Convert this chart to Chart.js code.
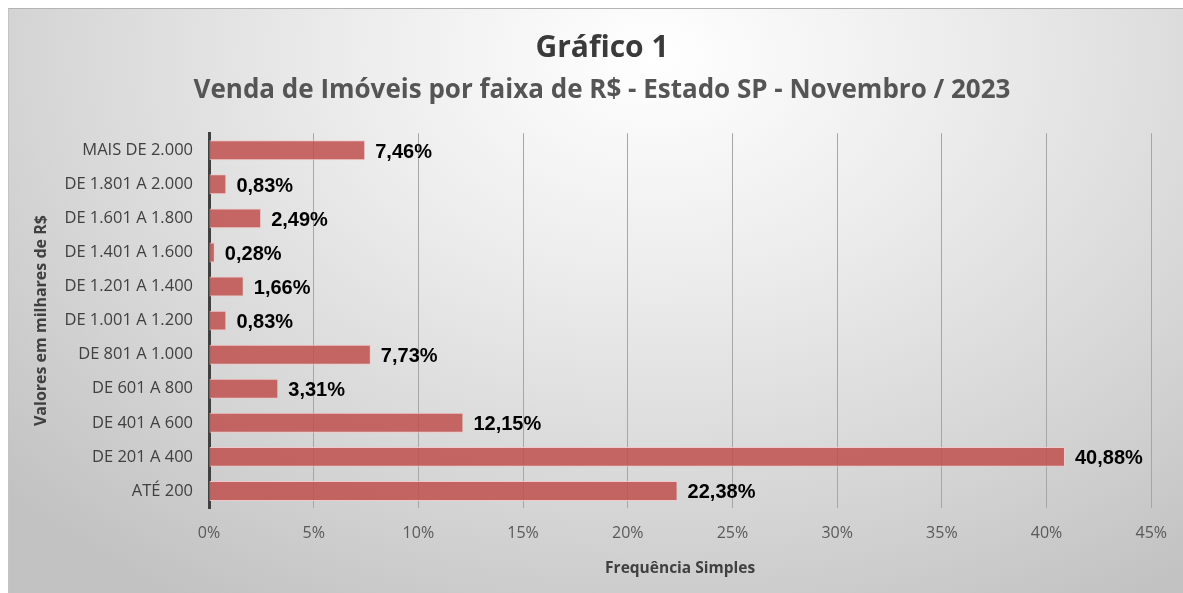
<!DOCTYPE html>
<html lang="pt-BR">
<head>
  <meta charset="UTF-8">
  <title>Gráfico 1</title>
  <style>
    body { margin: 0; background: #ffffff; }
    #chartContainer {
      position: absolute; left: 8px; top: 8px; width: 1175px; height: 585px;
      border-top: 1px solid #b4b4b4; border-left: 1px solid #c4c4c4;
      box-sizing: border-box;
      background: radial-gradient(ellipse 75% 110% at 55% 8%, #ffffff 0%, #ececec 35%, #d6d6d6 70%, #c2c2c2 100%);
    }
  </style>
</head>
<body>
  <div id="chartContainer">
    <canvas id="vendasChart"></canvas>
  </div>

  <script src="https://cdn.jsdelivr.net/npm/chart.js"></script>
  <script>
    // faixas de valor (de cima para baixo) e frequência simples em %
    const faixas = ['MAIS DE 2.000', 'DE 1.801 A 2.000', 'DE 1.601 A 1.800', 'DE 1.401 A 1.600',
      'DE 1.201 A 1.400', 'DE 1.001 A 1.200', 'DE 801 A 1.000', 'DE 601 A 800',
      'DE 401 A 600', 'DE 201 A 400', 'ATÉ 200'];
    const frequencias = [7.46, 0.83, 2.49, 0.28, 1.66, 0.83, 7.73, 3.31, 12.15, 40.88, 22.38];
    const xTicks = [0, 5, 10, 15, 20, 25, 30, 35, 40, 45];

    const fmt = v => v.toFixed(2).replace('.', ',') + '%';
    const FONT = '"Open Sans", "DejaVu Sans", sans-serif';

    // rótulos de dados na ponta das barras
    const barLabels = {
      id: 'barLabels',
      afterDatasetsDraw(chart) {
        const ctx = chart.ctx;
        const meta = chart.getDatasetMeta(0);
        ctx.save();
        ctx.font = 'bold 20px "Liberation Sans", Arial, sans-serif';
        ctx.fillStyle = '#000000';
        ctx.textAlign = 'left';
        ctx.textBaseline = 'middle';
        meta.data.forEach((bar, i) => {
          ctx.fillText(fmt(frequencias[i]), bar.x + 10, bar.y + 2);
        });
        ctx.restore();
      }
    };

    const ctx = document.getElementById('vendasChart').getContext('2d');
    new Chart(ctx, {
      type: 'bar',
      data: {
        labels: faixas,
        datasets: [{
          label: 'Frequência Simples',
          data: frequencias,
          backgroundColor: 'rgba(192, 80, 77, 0.85)',
          borderColor: 'rgba(245, 200, 200, 0.9)',
          borderWidth: 1,
          borderSkipped: false,
          categoryPercentage: 1,
          barPercentage: 0.585
        }]
      },
      options: {
        indexAxis: 'y',
        responsive: true,
        maintainAspectRatio: false,
        animation: false,
        layout: { padding: { left: 40, right: 28, top: 0, bottom: 0 } },
        plugins: {
          legend: { display: false },
          tooltip: { enabled: false },
          title: {
            display: true,
            text: 'Gráfico 1',
            color: '#3a3a3a',
            font: { family: FONT, size: 30, weight: 'bold' },
            padding: { top: 21, bottom: 9 }
          },
          subtitle: {
            display: true,
            text: 'Venda de Imóveis por faixa de R$ - Estado SP - Novembro / 2023',
            color: '#555555',
            font: { family: FONT, size: 26, weight: 'bold' },
            padding: { top: 0, bottom: 27 }
          }
        },
        scales: {
          x: {
            min: 0,
            max: 45,
            afterBuildTicks: scale => { scale.ticks = xTicks.map(v => ({ value: v })); },
            afterFit: scale => { scale.height = 85; },
            grid: { color: '#a6a6a6', lineWidth: 1, drawTicks: false },
            border: { display: false },
            ticks: {
              callback: v => v + '%',
              color: '#595959',
              padding: 16,
              font: { family: FONT, size: 16 }
            },
            title: {
              display: true,
              text: 'Frequência Simples',
              color: '#404040',
              padding: { top: 4, bottom: 15 },
              font: { family: FONT, size: 15.5, weight: 'bold' }
            }
          },
          y: {
            afterFit: scale => { scale.width = 160; },
            grid: { display: false, drawTicks: false },
            border: { display: true, color: '#404040', width: 3 },
            ticks: {
              color: '#404040',
              padding: 16,
              font: { family: FONT, size: 16.5 }
            },
            title: {
              display: true,
              text: 'Valores em milhares de R$',
              color: '#404040',
              padding: { top: -17, bottom: 0 },
              font: { family: FONT, size: 16, weight: 'bold' }
            }
          }
        }
      },
      plugins: [barLabels]
    });
  </script>
</body>
</html>
